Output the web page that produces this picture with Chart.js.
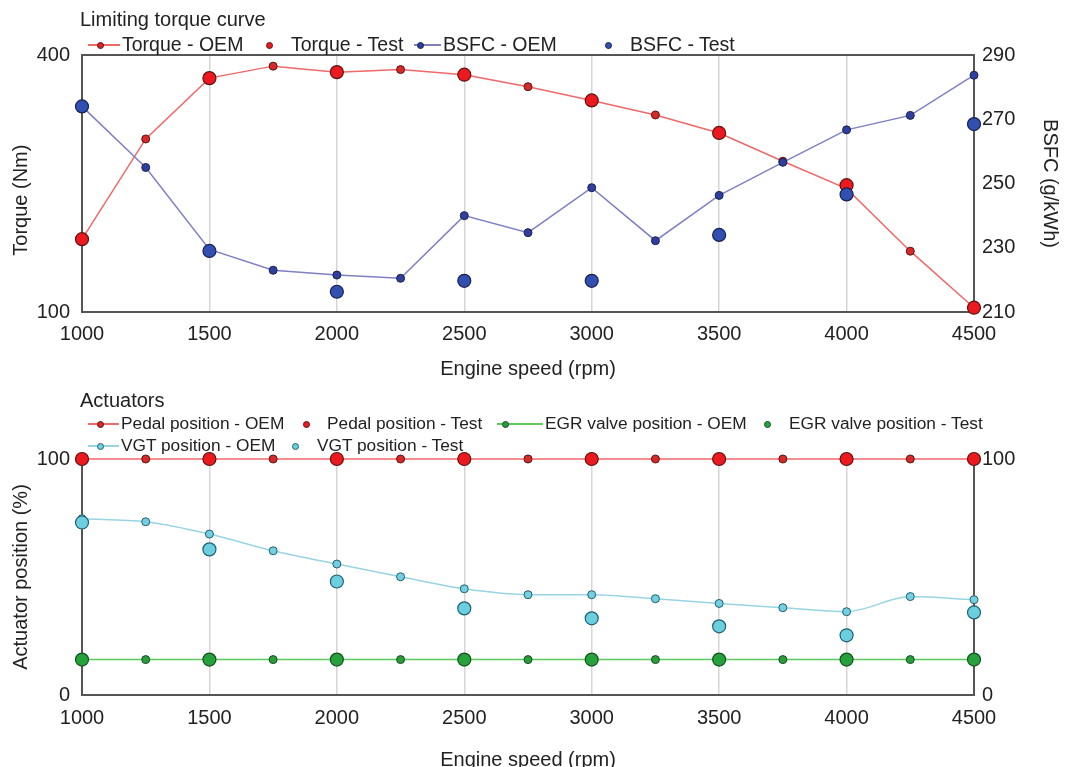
<!DOCTYPE html>
<html>
<head>
<meta charset="utf-8">
<script src="https://cdn.jsdelivr.net/npm/chart.js@4.4.1/dist/chart.umd.min.js"></script>
<style>
  body { margin: 0; background: #fff; width: 1071px; height: 767px; overflow: hidden; position: relative;
         font-family: "Liberation Sans", Arial, sans-serif; color: #222; }
  canvas { position: absolute; left: 0; }
  #topChart { top: 0; }
  #botChart { top: 385px; }
  .txt { position: absolute; white-space: nowrap; line-height: 1; }
  .ttl { font-size: 20px; }
  .lg { transform: translateY(-50%); }
  .ln { position: absolute; height: 1.5px; }
  .dot { position: absolute; border-radius: 50%; box-sizing: border-box; border: 1px solid; }
</style>
</head>
<body>
<canvas id="topChart"></canvas>
<canvas id="botChart"></canvas>
<div class="txt ttl" style="left:80px; top:9px;">Limiting torque curve</div>
<div class="txt ttl" style="left:80px; top:390px;">Actuators</div>
<script>
// engine speed points
const speedOEM = [1000, 1250, 1500, 1750, 2000, 2250, 2500, 2750, 3000, 3250, 3500, 3750, 4000, 4250, 4500];
const speedTest = [1000, 1500, 2000, 2500, 3000, 3500, 4000, 4500];

// top panel
const torqueOEM = [185, 302, 373, 387, 380, 383, 377, 363, 347, 330, 309, 276, 244, 171, 105];
const torqueTest = [185, 373, 380, 377, 347, 309, 248, 105];
const bsfcOEM = [274, 255, 229.5, 223, 221.5, 220.5, 240, 234.7, 248.7, 232.2, 246.3, 256.6, 266.7, 271.2, 283.7];
const bsfcTest = [274, 229, 216.3, 219.7, 219.7, 234, 246.6, 268.5];

// bottom panel
const pedalOEM = [100, 100, 100, 100, 100, 100, 100, 100, 100, 100, 100, 100, 100, 100, 100];
const pedalTest = [100, 100, 100, 100, 100, 100, 100, 100];
const egrOEM = [15, 15, 15, 15, 15, 15, 15, 15, 15, 15, 15, 15, 15, 15, 15];
const egrTest = [15, 15, 15, 15, 15, 15, 15, 15];
const vgtOEM = [74.7, 73.4, 68.2, 61.1, 55.5, 50.1, 45.0, 42.5, 42.5, 40.8, 38.8, 37.0, 35.3, 41.7, 40.4];
const vgtTest = [73.1, 61.7, 48.1, 36.7, 32.5, 29.1, 25.3, 35.0];

// tick labels
const speedTicks = [1000, 1500, 2000, 2500, 3000, 3500, 4000, 4500];
const torqueTicks = [100, 400];
const bsfcTicks = [210, 230, 250, 270, 290];
const actTicks = [0, 100];

const FONT = '"Liberation Sans", Arial, sans-serif';
const TXT = '#222';
const AXIS = '#555';

const C = {
  red:   { line: '#f06868', small: '#d52a2a', big: '#ec1a1f', edge: '#5e1212' },
  blue:  { line: '#7f7fc6', small: '#2f3f9c', big: '#3150b2', edge: '#1a2050' },
  green: { line: '#5ccb5c', small: '#2a9c3e', big: '#26a23c', edge: '#145020' },
  cyan:  { line: '#98d4e4', small: '#74d0e0', big: '#6ccfe0', edge: '#1f5f70' }
};

function pts(xs, ys) { return xs.map((x, i) => ({ x: x, y: ys[i] })); }

function oem(label, ys, c, axis, order, extra) {
  return Object.assign({
    label: label, data: pts(speedOEM, ys), yAxisID: axis, order: order,
    borderColor: c.line, borderWidth: 1.5, showLine: true,
    pointRadius: 4, pointBackgroundColor: c.small, pointBorderColor: c.edge, pointBorderWidth: 1,
    clip: false
  }, extra || {});
}
function test(label, ys, c, axis, order) {
  return {
    label: label, data: pts(speedTest, ys), yAxisID: axis, order: order,
    showLine: false,
    pointRadius: 6.5, pointBackgroundColor: c.big, pointBorderColor: c.edge, pointBorderWidth: 1.2,
    clip: false
  };
}

const topBorder = {
  id: 'topBorder',
  afterDraw(chart) {
    const a = chart.chartArea, ctx = chart.ctx;
    ctx.save();
    ctx.strokeStyle = AXIS; ctx.lineWidth = 2;
    ctx.beginPath(); ctx.moveTo(a.left, a.top); ctx.lineTo(a.right, a.top); ctx.stroke();
    ctx.restore();
  }
};

function fixedTicks(list) {
  return function (scale) { scale.ticks = list.map(v => ({ value: v })); };
}
const plain = v => String(v);

function xScale(height) {
  return {
    type: 'linear', min: 1000, max: 4500,
    afterBuildTicks: fixedTicks(speedTicks),
    afterFit(s) { s.height = height; },
    grid: { color: '#d6d6d6', lineWidth: 1.5, drawTicks: false },
    border: { display: true, color: AXIS, width: 2 },
    ticks: { padding: 10, color: TXT, font: { family: FONT, size: 20 }, callback: plain },
    title: { display: true, text: 'Engine speed (rpm)', color: TXT,
             font: { family: FONT, size: 20 }, padding: { top: 0, bottom: 4 } }
  };
}
function yScale(pos, min, max, list, title, width, tpad) {
  return {
    type: 'linear', position: pos, min: min, max: max,
    afterBuildTicks: fixedTicks(list),
    afterFit(s) { s.width = width; },
    grid: { display: false, drawTicks: false },
    border: { display: true, color: AXIS, width: 2 },
    ticks: { padding: pos === 'left' ? 12 : 8, color: TXT, font: { family: FONT, size: 20 }, callback: plain },
    title: { display: !!title, text: title || '', color: TXT,
             font: { family: FONT, size: 20 }, padding: { top: tpad, bottom: 0 } }
  };
}

const common = {
  responsive: false, animation: false, events: [],
  plugins: { legend: { display: false }, tooltip: { enabled: false } }
};

const topCanvas = document.getElementById('topChart');
topCanvas.width = 1071; topCanvas.height = 385;
new Chart(topCanvas, {
  type: 'scatter',
  data: {
    datasets: [
      test('BSFC - Test', bsfcTest, C.blue, 'y2', 0),
      oem('BSFC - OEM', bsfcOEM, C.blue, 'y2', 1),
      test('Torque - Test', torqueTest, C.red, 'y', 2),
      oem('Torque - OEM', torqueOEM, C.red, 'y', 3)
    ]
  },
  options: Object.assign({}, common, {
    layout: { padding: { top: 55, left: 0, right: 0, bottom: 0 } },
    scales: {
      x: xScale(73),
      y: yScale('left', 100, 400, torqueTicks, 'Torque (Nm)      ', 82, 9),
      y2: yScale('right', 210, 290, bsfcTicks, 'BSFC (g/kWh)', 97, 9)
    }
  }),
  plugins: [topBorder]
});

const botCanvas = document.getElementById('botChart');
botCanvas.width = 1071; botCanvas.height = 400;
const botX = xScale(90);
botX.title.padding = { top: 0, bottom: 13 };
botX.ticks.padding = 11;
new Chart(botCanvas, {
  type: 'scatter',
  data: {
    datasets: [
      test('VGT position - Test', vgtTest, C.cyan, 'y', 0),
      oem('VGT position - OEM', vgtOEM, C.cyan, 'y', 1, { cubicInterpolationMode: 'monotone' }),
      test('EGR valve position - Test', egrTest, C.green, 'y', 2),
      oem('EGR valve position - OEM', egrOEM, C.green, 'y', 3),
      test('Pedal position - Test', pedalTest, C.red, 'y', 4),
      oem('Pedal position - OEM', pedalOEM, C.red, 'y', 5)
    ]
  },
  options: Object.assign({}, common, {
    layout: { padding: { top: 74, left: 0, right: 0, bottom: 0 } },
    scales: {
      x: botX,
      y: yScale('left', 0, 100, actTicks, 'Actuator position (%)', 82, 9),
      y2: yScale('right', 0, 100, actTicks, '', 97, 0)
    }
  })
});

// legends (html, laid out like the original figure)
const legendItems = [
  { text: 'Torque - OEM', c: C.red, kind: 'oem', y: 45, l: [88, 120], d: 100, tx: 122, fs: 19.5 },
  { text: 'Torque - Test', c: C.red, kind: 'test', y: 45, d: 269, tx: 291, fs: 19.5 },
  { text: 'BSFC - OEM', c: C.blue, kind: 'oem', y: 45, l: [414, 441], d: 420, tx: 443, fs: 19.5 },
  { text: 'BSFC - Test', c: C.blue, kind: 'test', y: 45, d: 608, tx: 630, fs: 19.5 },
  { text: 'Pedal position - OEM', c: C.red, kind: 'oem', y: 424, l: [88, 119], d: 100, tx: 121, fs: 17.3 },
  { text: 'Pedal position - Test', c: C.red, kind: 'test', y: 424, d: 306, tx: 327, fs: 17.3 },
  { text: 'EGR valve position - OEM', c: C.green, kind: 'oem', y: 424, l: [497, 543], d: 505, tx: 545, fs: 17.3 },
  { text: 'EGR valve position - Test', c: C.green, kind: 'test', y: 424, d: 767, tx: 789, fs: 17.3 },
  { text: 'VGT position - OEM', c: C.cyan, kind: 'oem', y: 446, l: [88, 119], d: 100, tx: 121, fs: 17.3 },
  { text: 'VGT position - Test', c: C.cyan, kind: 'test', y: 446, d: 295, tx: 317, fs: 17.3 }
];

legendItems.forEach(it => {
  if (it.kind === 'oem') {
    const ln = document.createElement('div');
    ln.className = 'ln';
    ln.style.left = it.l[0] + 'px';
    ln.style.width = (it.l[1] - it.l[0]) + 'px';
    ln.style.top = (it.y - 0.75) + 'px';
    ln.style.background = it.c.line;
    document.body.appendChild(ln);
  }
  const r = 3.5;
  const dot = document.createElement('div');
  dot.className = 'dot';
  dot.style.left = (it.d - r) + 'px';
  dot.style.top = (it.y - r) + 'px';
  dot.style.width = dot.style.height = (2 * r) + 'px';
  dot.style.background = it.kind === 'oem' ? it.c.small : it.c.big;
  dot.style.borderColor = it.c.edge;
  document.body.appendChild(dot);

  const t = document.createElement('div');
  t.className = 'txt lg';
  t.style.left = it.tx + 'px';
  t.style.top = it.y + 'px';
  t.style.fontSize = it.fs + 'px';
  t.textContent = it.text;
  document.body.appendChild(t);
});
</script>
</body>
</html>
